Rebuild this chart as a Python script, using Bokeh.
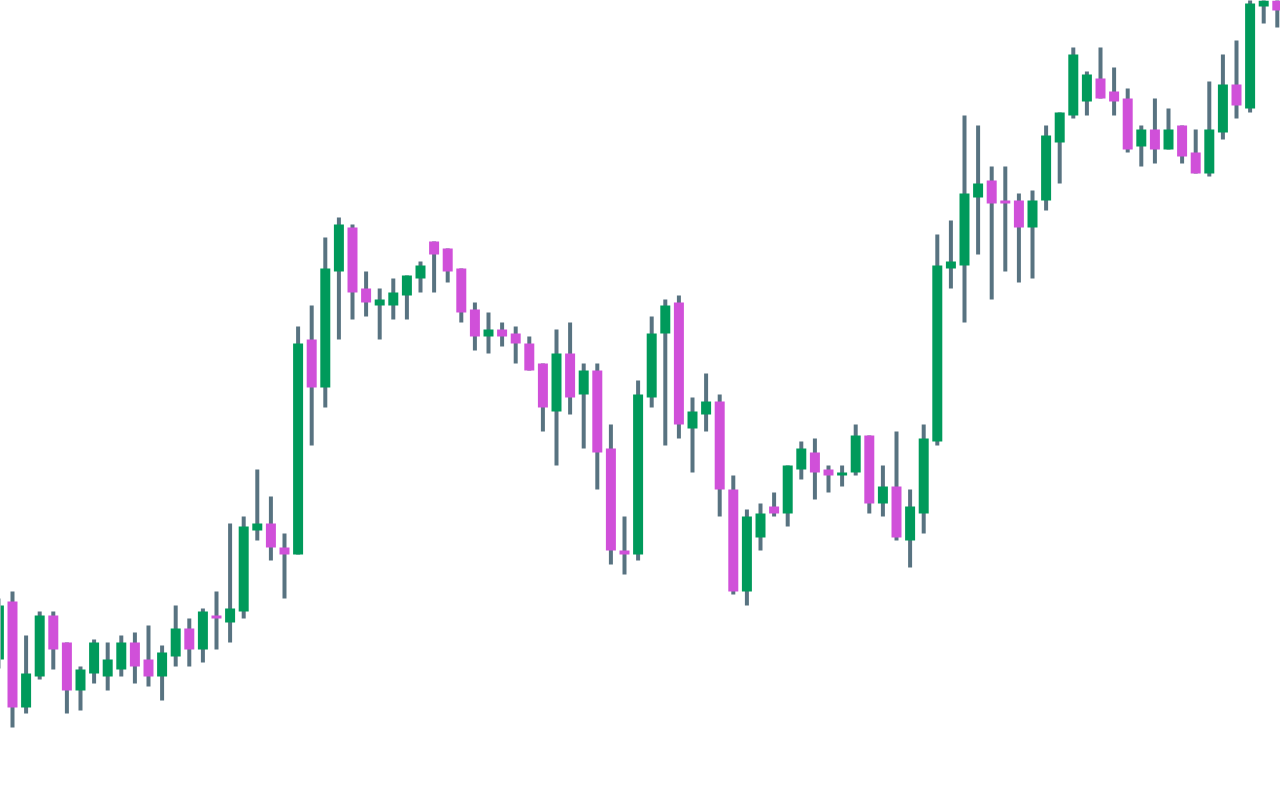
from bokeh.plotting import figure
from bokeh.models import ColumnDataSource, Range1d
from bokeh.embed import file_html
from bokeh.resources import INLINE

# OHLC values (price units), one entry per session
opens = [141, 199, 93, 124, 185, 158, 110, 127, 124, 131, 158, 141, 124, 144, 172, 151, 185, 178, 189, 270,
         277, 253, 246, 461, 413, 529, 573, 512, 495, 495, 505, 522, 559, 552, 532, 491, 464, 471, 467, 457,
         437, 389, 447, 406, 430, 352, 250, 246, 403, 467, 498, 372, 386, 399, 311, 209, 263, 294, 287, 331,
         348, 331, 325, 328, 365, 297, 314, 260, 287, 359, 532, 535, 603, 620, 600, 600, 573, 600, 658, 685,
         699, 722, 709, 702, 654, 671, 651, 675, 648, 627, 668, 716, 692, 794, 805]
highs = [202, 209, 165, 189, 189, 158, 134, 161, 158, 165, 168, 175, 155, 195, 182, 192, 209, 277, 284, 331,
         304, 267, 474, 495, 563, 583, 576, 529, 512, 522, 525, 539, 559, 552, 532, 498, 488, 478, 474, 464,
         437, 471, 478, 437, 437, 376, 284, 420, 484, 501, 505, 403, 427, 406, 325, 291, 297, 308, 335, 359,
         362, 335, 335, 376, 365, 335, 369, 311, 376, 566, 580, 685, 675, 634, 634, 607, 610, 675, 688, 753,
         729, 753, 733, 712, 675, 702, 692, 675, 671, 719, 746, 760, 803, 815, 812]
lows = [132, 73, 87, 121, 131, 87, 90, 117, 110, 124, 117, 114, 100, 134, 134, 138, 151, 158, 182, 260,
        240, 202, 246, 355, 393, 461, 481, 484, 461, 481, 481, 508, 508, 518, 478, 450, 447, 454, 437, 430,
        369, 335, 386, 352, 311, 236, 226, 240, 393, 355, 362, 328, 369, 284, 206, 195, 250, 284, 274, 321,
        301, 308, 314, 325, 287, 284, 260, 233, 267, 355, 512, 478, 546, 501, 529, 518, 522, 590, 617, 682,
        685, 702, 685, 648, 634, 637, 651, 637, 627, 624, 661, 682, 688, 777, 773]
closes = [195, 93, 127, 185, 151, 110, 131, 158, 141, 158, 134, 124, 148, 172, 151, 189, 182, 192, 274, 277,
          253, 246, 457, 413, 532, 576, 508, 498, 501, 508, 525, 535, 546, 529, 488, 464, 471, 464, 457, 430,
          393, 447, 403, 430, 348, 250, 246, 406, 467, 495, 376, 389, 399, 311, 209, 284, 287, 287, 335, 352,
          328, 325, 328, 365, 297, 314, 263, 294, 362, 535, 539, 607, 617, 597, 597, 573, 600, 665, 688, 746,
          726, 702, 699, 651, 671, 651, 671, 644, 627, 671, 716, 695, 797, 810, 790]

UP = "#009a5b"
DOWN = "#d050d9"
WICK = "#587381"

idx = list(range(len(opens)))
tops = [max(o, c) for o, c in zip(opens, closes)]
bots = [min(o, c) for o, c in zip(opens, closes)]
cols = [UP if c >= o else DOWN for o, c in zip(opens, closes)]

src = ColumnDataSource(dict(x=idx, high=highs, low=lows, top=tops, bottom=bots, color=cols))

p = figure(width=1280, height=800, output_backend="svg", toolbar_location=None,
           x_range=Range1d(0.118, 94.235), y_range=Range1d(0, 800),
           min_border=0, min_border_left=0, min_border_right=0, min_border_top=0, min_border_bottom=0)
p.axis.visible = False
p.xgrid.visible = False
p.ygrid.visible = False
p.outline_line_color = None
p.background_fill_color = "white"
p.border_fill_color = "white"

p.segment(x0="x", y0="low", x1="x", y1="high", source=src, line_color=WICK, line_width=4)
p.vbar(x="x", width=0.735, top="top", bottom="bottom", source=src,
       fill_color="color", line_color=None)

html = file_html(p, INLINE)
html = html.replace("<head>", "<head><style>html,body{margin:0;padding:0;overflow:hidden;}</style>", 1)
open("out.html", "w").write(html)
